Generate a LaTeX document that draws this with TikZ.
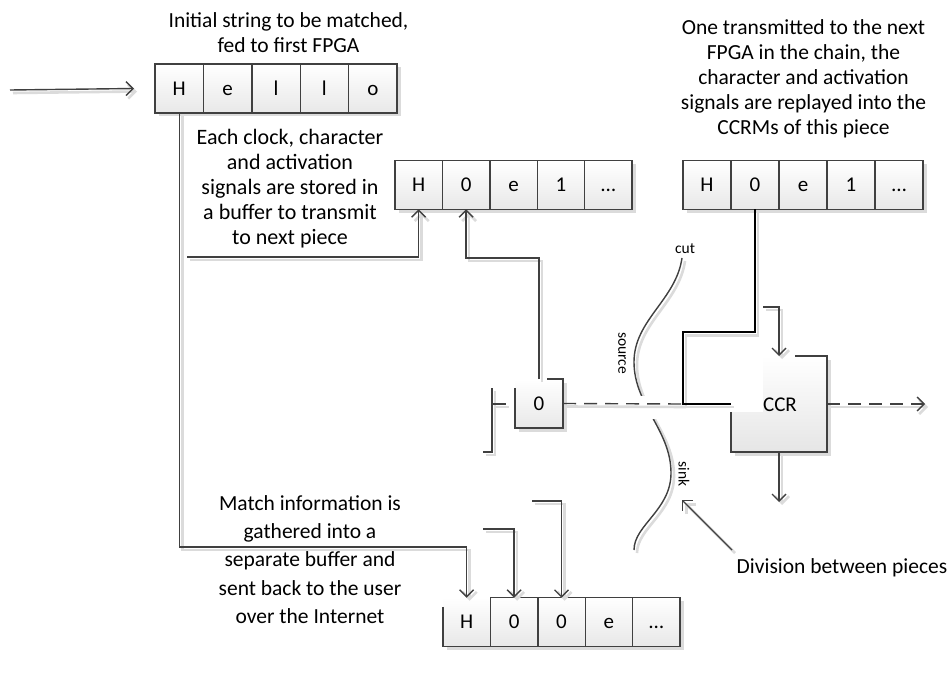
\documentclass[tikz,border=0pt]{standalone}
\usepackage{fontspec}
\setmainfont{Carlito}
\usetikzlibrary{arrows.meta,shadows,positioning,calc}
\definecolor{ink}{gray}{0.25}
\definecolor{shade}{gray}{0.86}

\tikzset{
  lineshadow/.style={preaction={draw=shade, line width=2.6pt, transform canvas={xshift=3pt,yshift=-3pt}}},
  wire/.style={draw=ink, line width=1.4pt, lineshadow},
  boldwire/.style={draw=black, line width=1.9pt, lineshadow},
  tip/.style={-{Straight Barb[length=7pt,width=14pt]}},
  signal/.style={wire, dash pattern=on 13pt off 8pt},
  cellbase/.style={outer sep=0pt, inner sep=0pt, minimum height=48.5pt, minimum width=47.5pt,
    text height=13.6pt, text depth=0pt,
    top color=white, bottom color=black!9, font=\fontsize{21}{24}\selectfont,
    drop shadow={shadow xshift=3.5pt, shadow yshift=-3.5pt, fill=shade, opacity=1}},
  cell/.style={cellbase, draw=ink, line width=1.4pt},
  inbuf/.style={cell, minimum width=48.4pt, minimum height=49pt},
  midbuf/.style={cell, minimum width=47.4pt},
  outbuf/.style={cell, minimum width=48pt},
  txt/.style={align=center, inner sep=0pt, font=\fontsize{21.5}{25}\selectfont},
  small/.style={inner sep=0pt, font=\fontsize{15.5}{18}\selectfont},
}

\begin{document}
\begin{tikzpicture}[x=1pt,y=-1pt]
\useasboundingbox (0,0) rectangle (951,690);

% captions
\node[txt] (t1) at (288.5,32.5) {Initial string to be matched,\\fed to first FPGA};
\node[txt, font=\fontsize{22}{25}\selectfont] (t2) at (290,189) {Each clock, character\\and activation\\signals are stored in\\a buffer to transmit\\to next piece};
\node[txt] (t3) at (803.5,79) {One transmitted to the next\\FPGA in the chain, the\\character and activation\\signals are replayed into the\\CCRMs of this piece};
\node[txt, font=\fontsize{21.5}{28.2}\selectfont] (t4) at (310,559.5) {Match information is\\gathered into a\\separate buffer and\\sent back to the user\\over the Internet};

% input string
\node[inbuf] (in1) at (179.2,88.5) {H};
\node[inbuf, right=0pt of in1] (in2) {e};
\node[inbuf, right=0pt of in2] (in3) {l};
\node[inbuf, right=0pt of in3] (in4) {l};
\node[inbuf, right=0pt of in4] (in5) {o};

% transmit buffer of this piece
\node[midbuf] (mb1) at (418.7,185) {H};
\node[midbuf, right=0pt of mb1] (mb2) {0};
\node[midbuf, right=0pt of mb2] (mb3) {e};
\node[midbuf, right=0pt of mb3] (mb4) {1};
\node[midbuf, right=0pt of mb4] (mb5) {…};

% replay buffer of the next piece
\node[outbuf] (rb1) at (707,185) {H};
\node[outbuf, right=0pt of rb1] (rb2) {0};
\node[outbuf, right=0pt of rb2] (rb3) {e};
\node[outbuf, right=0pt of rb3] (rb4) {1};
\node[outbuf, right=0pt of rb4] (rb5) {…};

% match buffer
\node[cellbase, minimum width=47.4pt] (ob1) at (466.7,622) {H};
\node[midbuf, right=0pt of ob1] (ob2) {0};
\node[midbuf, right=0pt of ob2] (ob3) {0};
\node[midbuf, right=0pt of ob3] (ob4) {e};
\node[midbuf, right=0pt of ob4] (ob5) {…};
\draw[draw=ink, line width=1.4pt] ([yshift=-9pt]ob1.north west) -- (ob1.south west) -- (ob1.south east);

% activation register
\node[cellbase, minimum width=48pt, minimum height=49pt] (reg) at (539,403.5) {0};
\draw[draw=ink, line width=1.4pt] ([xshift=8pt]reg.north) -- (reg.north east) -- (reg.south east)
  -- (reg.south west) -- ([yshift=-9pt]reg.north west);

% CCR block
\node[cellbase, minimum width=96pt, minimum height=96pt, bottom color=black!10] (ccr) at (779,404) {};
\fill[white] (ccr.north west) rectangle ++(32,56);
\draw[draw=ink, line width=1.4pt] ([xshift=16pt]ccr.north) -- (ccr.north east) -- (ccr.south east)
  -- (ccr.south west) -- ([yshift=-8pt]ccr.west);
\node[font=\fontsize{21}{24}\selectfont, inner sep=0pt] (ccrlabel) at (780,405) {CCR};

% left end of the register chain
\draw[wire] (483,452) -- (492,452) -- (492,388);
\draw[wire] (492,404) -- (506,404);

% cut between the pieces
\draw[wire] (682,258) .. controls (676,300) and (634,320) .. (634,362)
  .. controls (634,405) and (671,430) .. (671,473)
  .. controls (671,510) and (634,525) .. (634,550);
\fill[white] (636,396) rectangle (662,419);
\node[small] (cutlbl) at (685,249) {cut};
\node[small, rotate=-90] (srclbl) at (622,353) {source};
\node[small, rotate=-90] (sinklbl) at (684,474) {sink};

% connectors
\coordinate (src) at (10,90);
\draw[wire, tip] (src) -- ([xshift=-21pt]in1.west);
\draw[wire, tip] (in1.south) -- ++(0,434) -| (ob1.north);
\coordinate (tapA) at (187,257);
\draw[wire, tip] (tapA) -| (mb1.south);
\draw[wire, tip] (reg.north) -- ++(0,-121) -| (mb2.south);

\draw[boldwire] (rb2.south) -- ++(0,123) -- ++(-72,0) |- (ccr.west);
\coordinate (ccrin) at (763,307);
\draw[wire, tip] (ccrin) -| (ccr.north);
\draw[wire, tip] (ccr.south) -- ++(0,50);

\draw[signal] (reg.east) -- ([xshift=-48pt]ccr.west);
\draw[signal, tip] (ccr.east) -- ++(98,0);

\coordinate (mA) at (483,529);
\draw[wire, tip] (mA) -| (ob2.north);
\coordinate (mB) at (532,501);
\draw[wire, tip] (mB) -| (ob3.north);

% division label
\node[txt] (div) at (842,568) {Division between pieces};
\coordinate (divtail) at (732,550);
\coordinate (divtip) at (682,500);
\draw[wire, tip] (divtail) -- (divtip);
\end{tikzpicture}
\end{document}
